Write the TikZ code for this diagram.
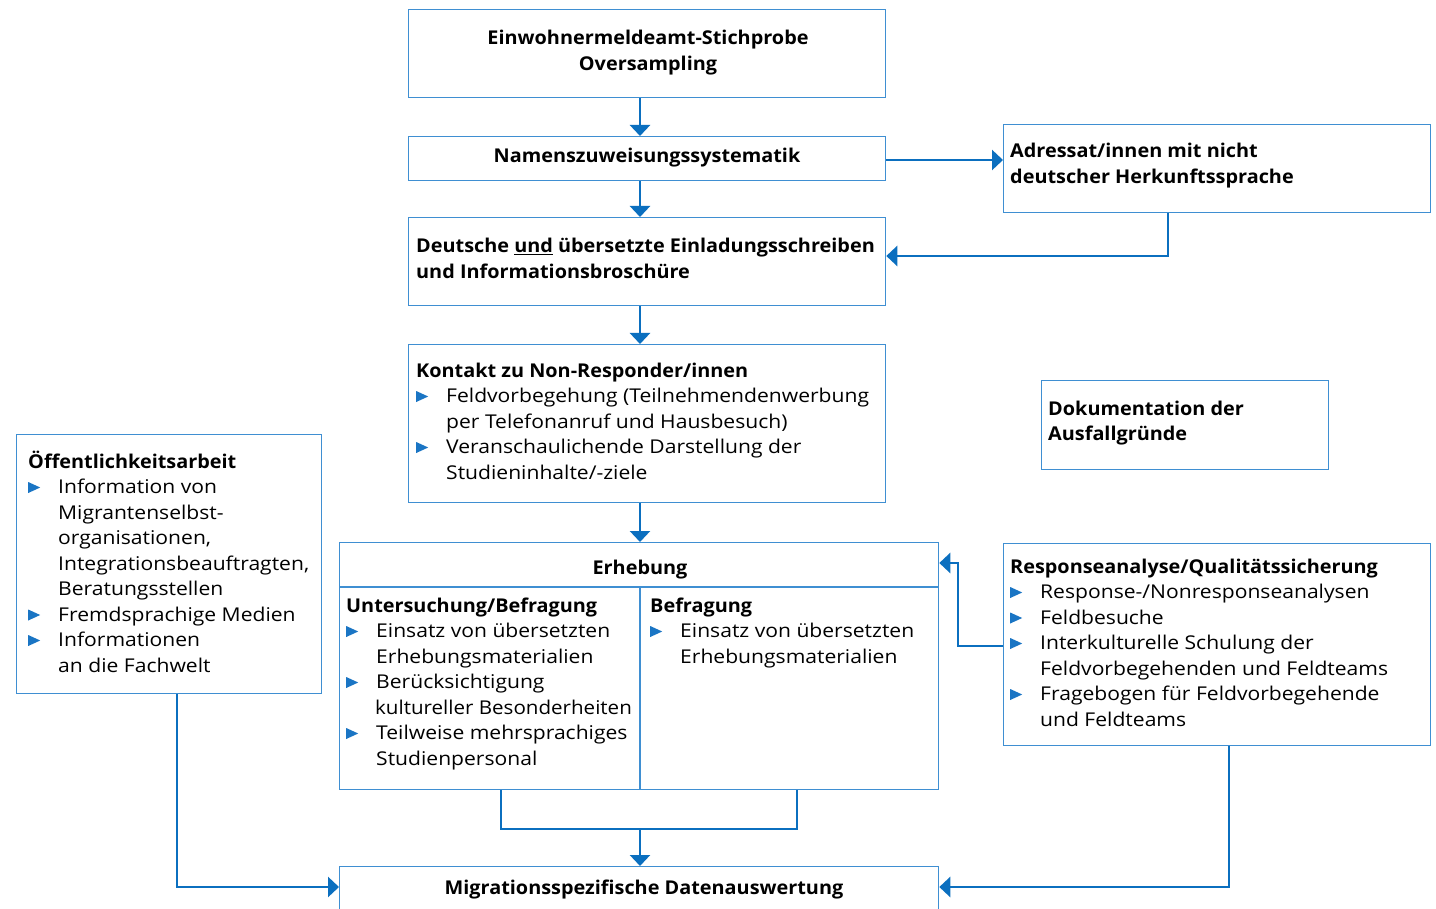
\documentclass[tikz,border=0pt]{standalone}
\usepackage{fontspec}
\setmainfont{Open Sans}[UprightFeatures={FakeStretch=1.11},BoldFeatures={FakeStretch=1.045}]
\usetikzlibrary{arrows.meta}
\definecolor{boxc}{HTML}{3F8FD2}
\definecolor{arrc}{HTML}{0B6FBF}
\definecolor{bulc}{HTML}{1A75C4}
\newcommand{\bul}{\makebox[30pt][l]{\raisebox{0.5pt}{\tikz\fill[bulc] (0pt,0pt)--(0pt,11pt)--(12pt,5.5pt)--cycle;}}}
\newcommand{\ind}{\hspace*{30pt}}
\begin{document}
\begin{tikzpicture}[x=1pt,y=-1pt,
  box/.style={draw=boxc,line width=1.3pt,anchor=north west,inner sep=0pt},
  txt/.style={anchor=base west,align=left,inner sep=0pt,font=\fontsize{19}{25.5}\selectfont},
  ctxt/.style={anchor=base,align=center,inner sep=0pt,font=\fontsize{19}{25.5}\selectfont\bfseries},
  arr/.style={draw=arrc,line width=2.6pt,-{Triangle[length=11pt,width=20pt]}},
  ln/.style={draw=arrc,line width=2.6pt}]
\clip (0,0) rectangle (1436,909);
\fill[white] (0,0) rectangle (1436,909);
% boxes
\node[box,minimum width=477pt,minimum height=88pt] (b1) at (408,9) {};
\node[box,minimum width=477pt,minimum height=44pt] (b2) at (408,136) {};
\node[box,minimum width=427pt,minimum height=88pt] (b3) at (1003,124) {};
\node[box,minimum width=477pt,minimum height=88pt] (b4) at (408,217) {};
\node[box,minimum width=477pt,minimum height=158pt] (b5) at (408,344) {};
\node[box,minimum width=287pt,minimum height=89pt] (b6) at (1041,380) {};
\node[box,minimum width=305pt,minimum height=259pt] (b7) at (16,434) {};
\node[box,minimum width=599pt,minimum height=247pt] (b8) at (339,542) {};
\node[box,minimum width=427pt,minimum height=202pt] (b9) at (1003,543) {};
\node[box,minimum width=599pt,minimum height=60pt] (b10) at (339,866) {};
\draw[boxc,line width=1.3pt] (b8.west |- 0,587) -- (b8.east |- 0,587);
\draw[boxc,line width=1.3pt] (640,587) -- (640,789);
% texts (anchored at the baseline of the last line)
\node[ctxt] (t1) at (648,70.5) {Einwohnermeldeamt-Stichprobe\\Oversampling};
\node[ctxt] (t2) at (647,163) {Namenszuweisungssystematik};
\node[txt,font=\fontsize{19}{25.5}\selectfont\bfseries] (t3) at (1010,183.5) {Adressat/innen mit nicht\\deutscher Herkunftssprache};
\node[txt,font=\fontsize{19}{25.5}\selectfont\bfseries] (t4) at (416,278.5) {Deutsche \underline{und} übersetzte Einladungsschreiben\\und Informationsbroschüre};
\node[txt] (t5) at (416,479) {\textbf{Kontakt zu Non-Responder/innen}\\
\bul Feldvorbegehung (Teilnehmendenwerbung\\
\ind per Telefonanruf und Hausbesuch)\\
\bul Veranschaulichende Darstellung der\\
\ind Studieninhalte/-ziele};
\node[txt,font=\fontsize{19}{25.5}\selectfont\bfseries] (t6) at (1048,440.5) {Dokumentation der\\Ausfallgründe};
\node[txt] (t7) at (28,672) {\textbf{Öffentlichkeitsarbeit}\\
\bul Information von\\
\ind Migrantenselbst-\\
\ind organisationen,\\
\ind Integrationsbeauftragten,\\
\ind Beratungsstellen\\
\bul Fremdsprachige Medien\\
\bul Informationen\\
\ind an die Fachwelt};
\node[ctxt] (t8) at (640,574) {Erhebung};
\node[txt] (t9) at (346,765) {\textbf{Untersuchung/Befragung}\\
\bul Einsatz von übersetzten\\
\ind Erhebungsmaterialien\\
\bul Berücksichtigung\\
\hspace*{29pt}\scalebox{0.975}[1]{kultureller Besonderheiten}\\
\bul Teilweise mehrsprachiges\\
\ind Studienpersonal};
\node[txt] (t10) at (650,663) {\textbf{Befragung}\\
\bul Einsatz von übersetzten\\
\ind Erhebungsmaterialien};
\node[txt] (t11) at (1010,726) {\textbf{Responseanalyse/Qualitätssicherung}\\
\bul Response-/Nonresponseanalysen\\
\bul Feldbesuche\\
\bul Interkulturelle Schulung der\\
\ind Feldvorbegehenden und Feldteams\\
\bul Fragebogen für Feldvorbegehende\\
\ind und Feldteams};
\node[ctxt] (t12) at (644,894) {Migrationsspezifische Datenauswertung};
% connectors
\draw[arr] (b1.south -| 640,0) -- (b2.north -| 640,0);
\draw[arr] (b2.south -| 640,0) -- (b4.north -| 640,0);
\draw[arr] (b2.east |- 0,160) -- (b3.west |- 0,160);
\draw[arr] (b3.south -| 1168,0) -- (1168,256) -- (b4.east |- 0,256);
\draw[arr] (b4.south -| 640,0) -- (b5.north -| 640,0);
\draw[arr] (b5.south -| 640,0) -- (b8.north -| 640,0);
\draw[arr] (b9.west |- 0,646) -- (958,646) -- (958,563) -- (b8.east |- 0,563);
\draw[arr] (b7.south -| 177,0) -- (177,887) -- (b10.west |- 0,887);
\draw[arr] (b9.south -| 1229,0) -- (1229,887) -- (b10.east |- 0,887);
\coordinate (j) at (640,829);
\draw[ln] (b8.south -| 501,0) -- (501,829) -- (797,829) -- (b8.south -| 797,0);
\draw[arr] (j) -- (b10.north -| 640,0);
\end{tikzpicture}
\end{document}
